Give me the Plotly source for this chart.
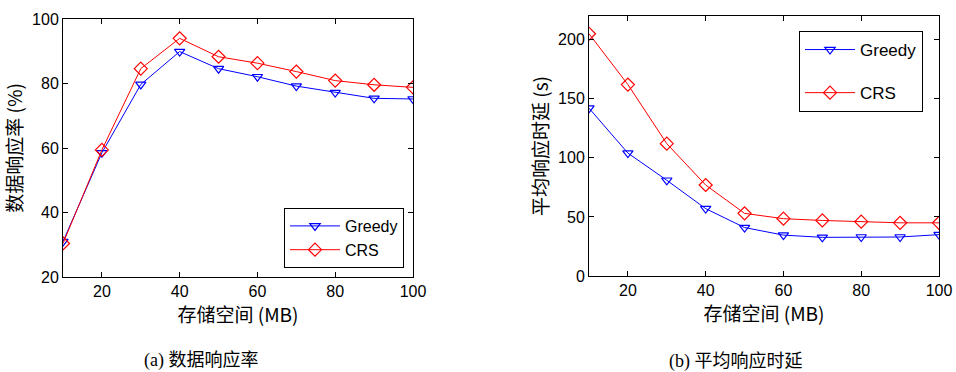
import plotly.graph_objects as go

storage = [10, 20, 30, 40, 50, 60, 70, 80, 90, 100]
rate_greedy = [31, 58.5, 79.7, 89.9, 84.6, 82.1, 79.2, 77.2, 75.4, 75.2]
rate_crs = [30.4, 59.4, 84.6, 94.0, 88.3, 86.3, 83.7, 80.9, 79.6, 78.8]
delay_greedy = [142, 104, 81, 57, 41, 34.6, 32.7, 33, 33, 35]
delay_crs = [205, 162, 112, 77, 53, 48.5, 47, 46, 45, 45]
x_ticks = [20, 40, 60, 80, 100]

W, H = 956, 372


def px(x):
    return x / W


def py(y):
    return 1 - y / H


BLUE = "#0000ff"
RED = "#ff0000"
TICKFONT = dict(family="Liberation Sans, Arial", size=16, color="black")
CJK = "Noto Sans CJK SC"
TITLEFONT = dict(family=CJK, size=19, color="black")

fig = go.Figure()


def add_pair(xa, ya, g, c, legend):
    fig.add_trace(go.Scatter(x=storage, y=g, name="Greedy", mode="lines+markers",
                             xaxis=xa, yaxis=ya, legend=legend, legendgroup=legend + "g",
                             line=dict(color=BLUE, width=1),
                             marker=dict(symbol="triangle-down-open", size=9, color=BLUE,
                                         line=dict(width=1.2, color=BLUE))))
    fig.add_trace(go.Scatter(x=storage, y=c, name="CRS", mode="lines+markers",
                             xaxis=xa, yaxis=ya, legend=legend, legendgroup=legend + "c",
                             line=dict(color=RED, width=1),
                             marker=dict(symbol="diamond-open", size=10, color=RED,
                                         line=dict(width=1.2, color=RED))))


add_pair("x", "y", rate_greedy, rate_crs, "legend")
add_pair("x2", "y2", delay_greedy, delay_crs, "legend2")

axis_common = dict(showline=True, mirror="ticks", linecolor="black", linewidth=1,
                   ticks="inside", ticklen=5, tickcolor="black", showgrid=False,
                   zeroline=False, tickfont=TICKFONT, automargin=False)

fig.update_layout(
    width=W, height=H, margin=dict(l=0, r=0, t=0, b=0, autoexpand=False),
    paper_bgcolor="white", plot_bgcolor="white",
    xaxis=dict(domain=[px(63), px(413)], range=[10, 100], tickvals=x_ticks, anchor="y",
               title=dict(text="存储空间 (MB)", font=TITLEFONT, standoff=6),
               **axis_common),
    yaxis=dict(domain=[py(277), py(19)], range=[20, 100], dtick=20, anchor="x",
               title=dict(text="数据响应率 (%)", font=TITLEFONT, standoff=5),
               **axis_common),
    xaxis2=dict(domain=[px(589), px(939)], range=[10, 100], tickvals=x_ticks, anchor="y2",
                title=dict(text="存储空间 (MB)", font=TITLEFONT, standoff=6),
                **axis_common),
    yaxis2=dict(domain=[py(276), py(16)], range=[0, 220], dtick=50, anchor="x2",
                title=dict(text="平均响应时延 (s)", font=TITLEFONT, standoff=4),
                **axis_common),
    legend=dict(x=px(404), xanchor="right", y=py(268), yanchor="bottom",
                bordercolor="black", borderwidth=1, bgcolor="white",
                font=dict(family="Liberation Sans, Arial", size=16, color="black"),
                traceorder="grouped", tracegroupgap=0, itemwidth=50),
    legend2=dict(x=px(923), xanchor="right", y=py(31), yanchor="top",
                 bordercolor="black", borderwidth=1, bgcolor="white",
                 font=dict(family="Liberation Sans, Arial", size=17, color="black"),
                 traceorder="grouped", tracegroupgap=18, itemwidth=50),
    annotations=[
        dict(text="(a) 数据响应率", x=px(201), y=py(360), xref="paper", yref="paper",
             xanchor="center", yanchor="middle", showarrow=False,
             font=dict(family="Liberation Serif, Noto Sans CJK SC", size=18, color="black")),
        dict(text="(b) 平均响应时延", x=px(736), y=py(361), xref="paper", yref="paper",
             xanchor="center", yanchor="middle", showarrow=False,
             font=dict(family="Liberation Serif, Noto Sans CJK SC", size=18, color="black")),
    ],
)

fig.write_html(
    "out.html",
    config={"displayModeBar": False},
    post_script="document.body.style.margin='0';document.body.style.overflow='hidden';",
)
